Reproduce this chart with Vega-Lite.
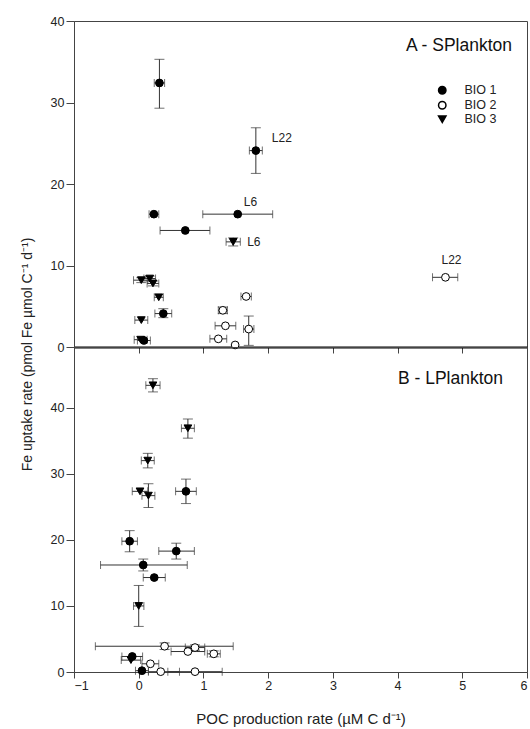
{
  "$schema": "https://vega.github.io/schema/vega-lite/v6.json",
  "padding": {"left": 19, "top": 14, "right": 4, "bottom": 0},
  "background": "white",
  "config": {
    "font": "Liberation Sans",
    "view": {"stroke": "#444", "strokeWidth": 1},
    "axis": {"grid": false, "labelFont": "Liberation Sans", "labelFontSize": 12.5, "labelColor": "#222", "tickColor": "#444", "domainColor": "#444", "tickSize": 8, "labelPadding": 2, "titleFont": "Liberation Sans", "titleFontSize": 14, "titleFontWeight": "normal", "titleColor": "#222"},
    "legend": {"labelFont": "Liberation Sans", "labelFontSize": 12.5, "labelColor": "#222", "symbolSize": 55}
  },
  "datasets": {
    "pts": [
      {"p": "A", "g": "BIO 1", "x": 0.32, "xlo": 0.24, "xhi": 0.40, "y": 32.4, "ylo": 29.3, "yhi": 35.3},
      {"p": "A", "g": "BIO 1", "x": 1.81, "xlo": 1.71, "xhi": 1.91, "y": 24.1, "ylo": 21.3, "yhi": 26.9, "lab": "L22"},
      {"p": "A", "g": "BIO 1", "x": 0.235, "xlo": 0.16, "xhi": 0.31, "y": 16.3},
      {"p": "A", "g": "BIO 1", "x": 1.53, "xlo": 0.99, "xhi": 2.07, "y": 16.3, "lab": "L6"},
      {"p": "A", "g": "BIO 1", "x": 0.72, "xlo": 0.33, "xhi": 1.10, "y": 14.3},
      {"p": "A", "g": "BIO 3", "x": 1.46, "xlo": 1.35, "xhi": 1.57, "y": 12.9, "ylo": 12.4, "yhi": 13.4, "lab": "L6"},
      {"p": "A", "g": "BIO 3", "x": 0.04, "xlo": -0.08, "xhi": 0.14, "y": 8.2, "ylo": 7.9, "yhi": 8.5},
      {"p": "A", "g": "BIO 3", "x": 0.17, "xlo": 0.08, "xhi": 0.26, "y": 8.4, "ylo": 8.1, "yhi": 8.7},
      {"p": "A", "g": "BIO 3", "x": 0.22, "xlo": 0.13, "xhi": 0.31, "y": 7.8, "ylo": 7.5, "yhi": 8.1},
      {"p": "A", "g": "BIO 3", "x": 0.31, "xlo": 0.24, "xhi": 0.38, "y": 6.1},
      {"p": "A", "g": "BIO 1", "x": 0.38, "xlo": 0.25, "xhi": 0.51, "y": 4.1, "ylo": 3.6, "yhi": 4.7},
      {"p": "A", "g": "BIO 3", "x": 0.04, "xlo": -0.06, "xhi": 0.14, "y": 3.3},
      {"p": "A", "g": "BIO 3", "x": 0.03, "xlo": -0.07, "xhi": 0.13, "y": 0.9},
      {"p": "A", "g": "BIO 1", "x": 0.08, "xlo": -0.02, "xhi": 0.18, "y": 0.8},
      {"p": "A", "g": "BIO 2", "x": 1.30, "xlo": 1.23, "xhi": 1.37, "y": 4.5, "ylo": 4.1, "yhi": 4.9},
      {"p": "A", "g": "BIO 2", "x": 1.66, "xlo": 1.58, "xhi": 1.74, "y": 6.2},
      {"p": "A", "g": "BIO 2", "x": 1.34, "xlo": 1.18, "xhi": 1.50, "y": 2.6},
      {"p": "A", "g": "BIO 2", "x": 1.70, "xlo": 1.62, "xhi": 1.78, "y": 2.2, "ylo": 0.2, "yhi": 3.8},
      {"p": "A", "g": "BIO 2", "x": 1.23, "xlo": 1.10, "xhi": 1.36, "y": 1.0},
      {"p": "A", "g": "BIO 2", "x": 1.49, "y": 0.25},
      {"p": "A", "g": "BIO 2", "x": 4.74, "xlo": 4.54, "xhi": 4.93, "y": 8.55, "lab": "L22"},
      {"p": "B", "g": "BIO 3", "x": 0.22, "xlo": 0.11, "xhi": 0.33, "y": 43.4, "ylo": 42.4, "yhi": 44.4},
      {"p": "B", "g": "BIO 3", "x": 0.76, "xlo": 0.66, "xhi": 0.86, "y": 36.9, "ylo": 35.4, "yhi": 38.3},
      {"p": "B", "g": "BIO 3", "x": 0.14, "xlo": 0.04, "xhi": 0.24, "y": 32.0, "ylo": 30.9, "yhi": 33.1},
      {"p": "B", "g": "BIO 3", "x": 0.02, "xlo": -0.10, "xhi": 0.14, "y": 27.35},
      {"p": "B", "g": "BIO 3", "x": 0.15, "xlo": 0.05, "xhi": 0.25, "y": 26.7, "ylo": 24.9, "yhi": 28.5},
      {"p": "B", "g": "BIO 1", "x": 0.73, "xlo": 0.57, "xhi": 0.89, "y": 27.35, "ylo": 25.5, "yhi": 29.2},
      {"p": "B", "g": "BIO 1", "x": -0.14, "xlo": -0.26, "xhi": -0.02, "y": 19.8, "ylo": 18.2, "yhi": 21.4},
      {"p": "B", "g": "BIO 1", "x": 0.58, "xlo": 0.31, "xhi": 0.86, "y": 18.3, "ylo": 17.1, "yhi": 19.5},
      {"p": "B", "g": "BIO 1", "x": 0.07, "xlo": -0.59, "xhi": 0.75, "y": 16.2, "ylo": 15.3, "yhi": 17.1},
      {"p": "B", "g": "BIO 1", "x": 0.24, "xlo": 0.07, "xhi": 0.41, "y": 14.3},
      {"p": "B", "g": "BIO 3", "x": 0.0, "xlo": -0.08, "xhi": 0.08, "y": 10.0, "ylo": 6.9, "yhi": 13.1},
      {"p": "B", "g": "BIO 2", "x": 0.40, "xlo": -0.67, "xhi": 1.46, "y": 3.9, "ylo": 3.4, "yhi": 4.4},
      {"p": "B", "g": "BIO 2", "x": 0.76, "xlo": 0.50, "xhi": 1.02, "y": 3.1},
      {"p": "B", "g": "BIO 2", "x": 0.87, "xlo": 0.72, "xhi": 1.02, "y": 3.7, "ylo": 3.3, "yhi": 4.1},
      {"p": "B", "g": "BIO 2", "x": 1.16, "xlo": 1.06, "xhi": 1.26, "y": 2.75, "ylo": 2.3, "yhi": 3.2},
      {"p": "B", "g": "BIO 1", "x": -0.10, "xlo": -0.26, "xhi": 0.06, "y": 2.35},
      {"p": "B", "g": "BIO 3", "x": -0.12, "xlo": -0.27, "xhi": 0.03, "y": 1.8},
      {"p": "B", "g": "BIO 2", "x": 0.18, "xlo": 0.05, "xhi": 0.31, "y": 1.24},
      {"p": "B", "g": "BIO 1", "x": 0.05, "xlo": -0.05, "xhi": 0.15, "y": 0.2},
      {"p": "B", "g": "BIO 2", "x": 0.34, "xlo": 0.15, "xhi": 0.63, "y": 0.05},
      {"p": "B", "g": "BIO 2", "x": 0.87, "xlo": 0.45, "xhi": 1.29, "y": 0.05}
    ]
  },
  "spacing": 0,
  "bounds": "flush",
  "resolve": {"scale": {"shape": "independent", "fill": "independent"}, "legend": {"shape": "independent", "fill": "independent"}},
  "vconcat": [
    {
      "width": 453,
      "height": 326,
      "data": {"name": "pts"},
      "transform": [{"filter": "datum.p == 'A'"}],
      "title": {"text": "A - SPlankton", "anchor": "end", "frame": "group", "orient": "top", "offset": 0, "baseline": "middle", "dx": -15, "dy": 48, "fontSize": 17.5, "fontWeight": "normal", "color": "#111", "font": "Liberation Sans"},
      "encoding": {
        "x": {"type": "quantitative", "scale": {"domain": [-1, 6], "nice": false}, "axis": {"values": [-1, 0, 1, 2, 3, 4, 5, 6], "labels": false, "title": null, "domainColor": "black", "domainWidth": 2, "tickSize": 6}},
        "y": {"type": "quantitative", "scale": {"domain": [0, 40], "nice": false}, "axis": {"values": [0, 10, 20, 30, 40], "title": "Fe uptake rate (pmol Fe µmol C⁻¹ d⁻¹)", "titleY": 333, "titleX": -40}}
      },
      "layer": [
        {"transform": [{"filter": "isValid(datum.xlo)"}], "mark": {"type": "rule", "color": "#333", "strokeWidth": 1}, "encoding": {"x": {"field": "xlo", "type": "quantitative"}, "x2": {"field": "xhi"}, "y": {"field": "y", "type": "quantitative"}}},
        {"transform": [{"filter": "isValid(datum.xlo)"}], "mark": {"type": "tick", "orient": "vertical", "color": "#333", "thickness": 1, "size": 8}, "encoding": {"x": {"field": "xlo", "type": "quantitative"}, "y": {"field": "y", "type": "quantitative"}}},
        {"transform": [{"filter": "isValid(datum.xhi)"}], "mark": {"type": "tick", "orient": "vertical", "color": "#333", "thickness": 1, "size": 8}, "encoding": {"x": {"field": "xhi", "type": "quantitative"}, "y": {"field": "y", "type": "quantitative"}}},
        {"transform": [{"filter": "isValid(datum.ylo)"}], "mark": {"type": "rule", "color": "#333", "strokeWidth": 1}, "encoding": {"x": {"field": "x", "type": "quantitative"}, "y": {"field": "ylo", "type": "quantitative"}, "y2": {"field": "yhi"}}},
        {"transform": [{"filter": "isValid(datum.ylo)"}], "mark": {"type": "tick", "orient": "horizontal", "color": "#333", "thickness": 1, "size": 10}, "encoding": {"x": {"field": "x", "type": "quantitative"}, "y": {"field": "ylo", "type": "quantitative"}}},
        {"transform": [{"filter": "isValid(datum.yhi)"}], "mark": {"type": "tick", "orient": "horizontal", "color": "#333", "thickness": 1, "size": 10}, "encoding": {"x": {"field": "x", "type": "quantitative"}, "y": {"field": "yhi", "type": "quantitative"}}},
        {
          "mark": {"type": "point", "filled": false, "color": "black", "strokeWidth": 1, "size": 60, "opacity": 1, "fillOpacity": 1},
          "encoding": {
            "x": {"field": "x", "type": "quantitative"},
            "y": {"field": "y", "type": "quantitative"},
            "shape": {"field": "g", "type": "nominal", "scale": {"domain": ["BIO 1", "BIO 2", "BIO 3"], "range": ["circle", "circle", "triangle-down"]}, "legend": {"title": null, "orient": "none", "legendX": 362, "legendY": 63, "padding": 0, "rowPadding": 1, "labelOffset": 16, "symbolSize": 55, "encode": {"symbols": {"update": {"fill": {"signal": "datum.value == 'BIO 2' ? 'white' : 'black'"}, "stroke": {"value": "black"}, "strokeWidth": {"value": 1}, "opacity": {"value": 1}}}}}},
            "fill": {"field": "g", "type": "nominal", "scale": {"domain": ["BIO 1", "BIO 2", "BIO 3"], "range": ["black", "white", "black"]}, "legend": null}
          }
        },
        {
          "transform": [{"filter": "datum.lab == 'L22' && datum.g == 'BIO 1'"}],
          "mark": {"type": "text", "align": "left", "baseline": "middle", "fontSize": 12, "color": "#222", "dx": 16, "dy": -13, "font": "Liberation Sans"},
          "encoding": {"x": {"field": "x", "type": "quantitative"}, "y": {"field": "y", "type": "quantitative"}, "text": {"field": "lab"}}
        },
        {
          "transform": [{"filter": "datum.lab == 'L6' && datum.g == 'BIO 1'"}],
          "mark": {"type": "text", "align": "left", "baseline": "middle", "fontSize": 12, "color": "#222", "dx": 6, "dy": -12, "font": "Liberation Sans"},
          "encoding": {"x": {"field": "x", "type": "quantitative"}, "y": {"field": "y", "type": "quantitative"}, "text": {"field": "lab"}}
        },
        {
          "transform": [{"filter": "datum.lab == 'L6' && datum.g == 'BIO 3'"}],
          "mark": {"type": "text", "align": "left", "baseline": "middle", "fontSize": 12, "color": "#222", "dx": 14, "dy": 0, "font": "Liberation Sans"},
          "encoding": {"x": {"field": "x", "type": "quantitative"}, "y": {"field": "y", "type": "quantitative"}, "text": {"field": "lab"}}
        },
        {
          "transform": [{"filter": "datum.lab == 'L22' && datum.g == 'BIO 2'"}],
          "mark": {"type": "text", "align": "left", "baseline": "middle", "fontSize": 12, "color": "#222", "dx": -4, "dy": -17, "font": "Liberation Sans"},
          "encoding": {"x": {"field": "x", "type": "quantitative"}, "y": {"field": "y", "type": "quantitative"}, "text": {"field": "lab"}}
        }
      ]
    },
    {
      "width": 453,
      "height": 325,
      "data": {"name": "pts"},
      "transform": [{"filter": "datum.p == 'B'"}],
      "title": {"text": "B - LPlankton", "anchor": "end", "frame": "group", "orient": "top", "offset": 0, "baseline": "middle", "dx": -24, "dy": 49, "fontSize": 17.5, "fontWeight": "normal", "color": "#111", "font": "Liberation Sans"},
      "encoding": {
        "x": {"type": "quantitative", "scale": {"domain": [-1, 6], "nice": false}, "axis": {"values": [-1, 0, 1, 2, 3, 4, 5, 6], "title": "POC production rate (µM C d⁻¹)", "titleFontSize": 15, "titlePadding": 20, "tickSize": 6, "labelPadding": 1}},
        "y": {"type": "quantitative", "scale": {"domain": [0, 49.2], "nice": false}, "axis": {"values": [0, 10, 20, 30, 40], "title": null}}
      },
      "layer": [
        {"transform": [{"filter": "isValid(datum.xlo)"}], "mark": {"type": "rule", "color": "#333", "strokeWidth": 1}, "encoding": {"x": {"field": "xlo", "type": "quantitative"}, "x2": {"field": "xhi"}, "y": {"field": "y", "type": "quantitative"}}},
        {"transform": [{"filter": "isValid(datum.xlo)"}], "mark": {"type": "tick", "orient": "vertical", "color": "#333", "thickness": 1, "size": 8}, "encoding": {"x": {"field": "xlo", "type": "quantitative"}, "y": {"field": "y", "type": "quantitative"}}},
        {"transform": [{"filter": "isValid(datum.xhi)"}], "mark": {"type": "tick", "orient": "vertical", "color": "#333", "thickness": 1, "size": 8}, "encoding": {"x": {"field": "xhi", "type": "quantitative"}, "y": {"field": "y", "type": "quantitative"}}},
        {"transform": [{"filter": "isValid(datum.ylo)"}], "mark": {"type": "rule", "color": "#333", "strokeWidth": 1}, "encoding": {"x": {"field": "x", "type": "quantitative"}, "y": {"field": "ylo", "type": "quantitative"}, "y2": {"field": "yhi"}}},
        {"transform": [{"filter": "isValid(datum.ylo)"}], "mark": {"type": "tick", "orient": "horizontal", "color": "#333", "thickness": 1, "size": 10}, "encoding": {"x": {"field": "x", "type": "quantitative"}, "y": {"field": "ylo", "type": "quantitative"}}},
        {"transform": [{"filter": "isValid(datum.yhi)"}], "mark": {"type": "tick", "orient": "horizontal", "color": "#333", "thickness": 1, "size": 10}, "encoding": {"x": {"field": "x", "type": "quantitative"}, "y": {"field": "yhi", "type": "quantitative"}}},
        {
          "mark": {"type": "point", "filled": false, "color": "black", "strokeWidth": 1, "size": 60, "opacity": 1, "fillOpacity": 1},
          "encoding": {
            "x": {"field": "x", "type": "quantitative"},
            "y": {"field": "y", "type": "quantitative"},
            "shape": {"field": "g", "type": "nominal", "scale": {"domain": ["BIO 1", "BIO 2", "BIO 3"], "range": ["circle", "circle", "triangle-down"]}, "legend": null},
            "fill": {"field": "g", "type": "nominal", "scale": {"domain": ["BIO 1", "BIO 2", "BIO 3"], "range": ["black", "white", "black"]}, "legend": null}
          }
        }
      ]
    }
  ]
}
